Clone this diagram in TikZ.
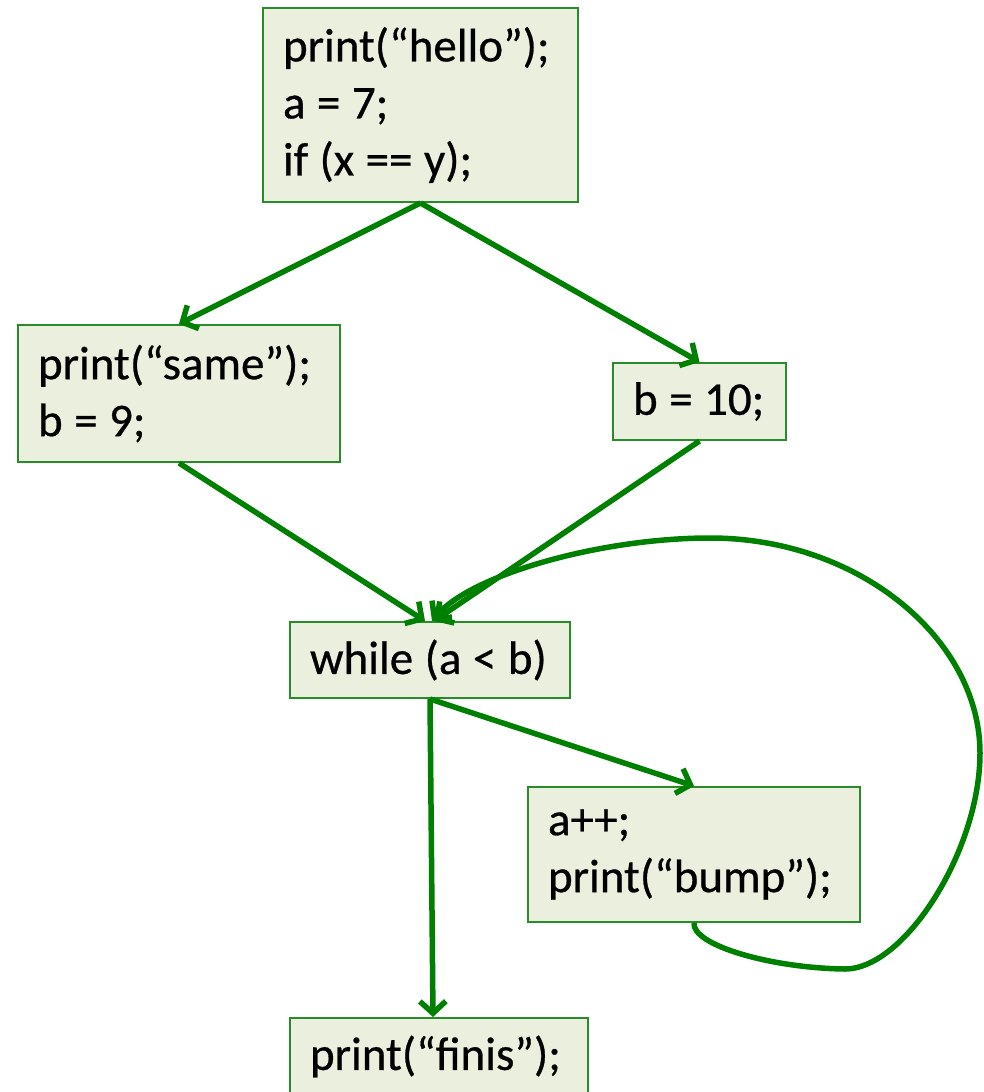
\documentclass[tikz,border=0pt]{standalone}
\usepackage{fontspec}
\setmainfont{Carlito}[FakeBold=0.6]
\usetikzlibrary{arrows.meta,calc}
\definecolor{boxfill}{RGB}{235,240,222}
\definecolor{boxline}{RGB}{40,140,40}
\definecolor{arrowgreen}{RGB}{0,128,0}
\newcommand{\codeline}[1]{\mbox{\spaceskip=11.5pt\relax #1}}
\newcommand{\codefont}{\fontsize{47}{57}\selectfont}
\begin{document}
\begin{tikzpicture}[x=1pt,y=-1pt,
  codebox/.style={draw=boxline, line width=2pt, fill=boxfill, rectangle,
    inner xsep=20pt, inner ysep=0pt, align=left, font=\codefont},
  flow/.style={draw=arrowgreen, line width=5.5pt,
    -{Straight Barb[length=12pt,width=26pt]}}]
\useasboundingbox (0,0) rectangle (983,1092);
\node[codebox, text width=275pt, minimum height=194pt] (top) at (420.5,105)
  {\codeline{print(“hello”);}\\\codeline{a = 7;}\\\codeline{if (x == y);}};
\node[codebox, text width=282pt, minimum height=137pt] (same) at (179,393.5)
  {\codeline{print(“same”);}\\\codeline{b = 9;}};
\node[codebox, text width=133pt, minimum height=77pt] (b10) at (699.5,401.5)
  {\codeline{b = 10;}};
\node[codebox, text width=240pt, minimum height=76pt] (while) at (430,660)
  {\codeline{while (a < b)}};
\node[codebox, text width=292pt, minimum height=135pt] (bump) at (694,854.5)
  {\codeline{a++;}\\\codeline{print(“bump”);}};
\node[codebox, text width=258pt, minimum height=77pt] (finis) at (439,1056.5)
  {\codeline{print(“finis”);}};
\coordinate (winA) at ($(while.north)+(-5,0)$);
\coordinate (winB) at ($(while.north)+(4,0)$);
\coordinate (winC) at ($(while.north)+(2,0)$);
\coordinate (finin) at ($(finis.north)+(-6,0)$);
\coordinate (l1) at (845,969);
\coordinate (l2) at (980,753);
\coordinate (l3) at (710,538);
\draw[flow] (top.south) -- (same.north);
\draw[flow] (top.south) -- (b10.north);
\draw[flow] (same.south) -- (winA);
\draw[flow] (b10.south) -- (winB);
\draw[flow] (bump.south) .. controls (692,945) and (770,968) .. (l1)
  .. controls (905,969) and (980,850) .. (l2)
  .. controls (980,640) and (860,538) .. (l3)
  .. controls (600,538) and (470,575) .. (winC);
\draw[flow] (while.south) -- (bump.north);
\draw[flow] (while.south) -- (finin);
\end{tikzpicture}
\end{document}
